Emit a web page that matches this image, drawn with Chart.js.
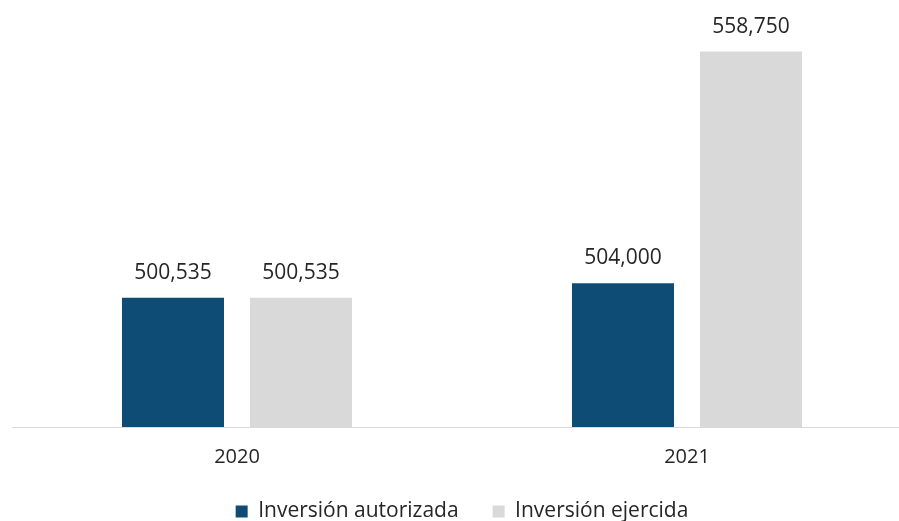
<!DOCTYPE html>
<html>
<head>
<meta charset="utf-8">
<script src="https://cdn.jsdelivr.net/npm/chart.js@4.4.1/dist/chart.umd.min.js"></script>
<style>
  html, body { margin: 0; padding: 0; background: #fff; overflow: hidden; }
  #wrap { position: relative; width: 926px; height: 532px; }
</style>
</head>
<body>
<div id="wrap"><canvas id="main_chart"></canvas></div>
<script>
const years = ['2020', '2021'];
const autorizada = [500535, 504000];
const ejercida = [500535, 558750];
const series_names = ['Inversión autorizada', 'Inversión ejercida'];

const bar_colors = ['#0F4C75', '#D9D9D9'];
const font_family = "'Open Sans', sans-serif";

// values on top of each bar
const value_labels = {
  id: 'value_labels',
  afterDatasetsDraw(chart) {
    const ctx = chart.ctx;
    ctx.save();
    ctx.font = '21px ' + font_family;
    ctx.fillStyle = '#262626';
    ctx.textAlign = 'center';
    ctx.textBaseline = 'alphabetic';
    chart.data.datasets.forEach((ds, i) => {
      chart.getDatasetMeta(i).data.forEach((bar, j) => {
        ctx.fillText(ds.data[j].toLocaleString('en-US'), bar.x, bar.y - 19);
      });
    });
    ctx.restore();
  }
};

new Chart('main_chart', {
  type: 'bar',
  data: {
    labels: years,
    datasets: [
      {
        label: series_names[0],
        data: autorizada,
        backgroundColor: bar_colors[0],
        categoryPercentage: 0.569,
        barPercentage: 0.797,
      },
      {
        label: series_names[1],
        data: ejercida,
        backgroundColor: bar_colors[1],
        categoryPercentage: 0.569,
        barPercentage: 0.797,
      },
    ]
  },
  options: {
    responsive: true,
    maintainAspectRatio: false,
    animation: false,
    layout: { padding: { left: 12, right: 14, top: 4, bottom: 0 } },
    scales: {
      x: {
        grid: { display: false, drawTicks: false },
        border: { display: true, color: '#D9D9D9', width: 1 },
        ticks: { padding: 18, color: '#262626', font: { family: font_family, size: 20 } },
        afterFit(scale) { scale.height -= 20; },
      },
      y: {
        display: false,
        min: 470000,
        max: 570000,
      }
    },
    plugins: {
      legend: {
        position: 'bottom',
        labels: {
          boxWidth: 12,
          boxHeight: 12,
          padding: 34,
          color: '#262626',
          font: { family: font_family, size: 21 },
        }
      },
      tooltip: { enabled: false },
    }
  },
  plugins: [value_labels],
});
</script>
</body>
</html>
